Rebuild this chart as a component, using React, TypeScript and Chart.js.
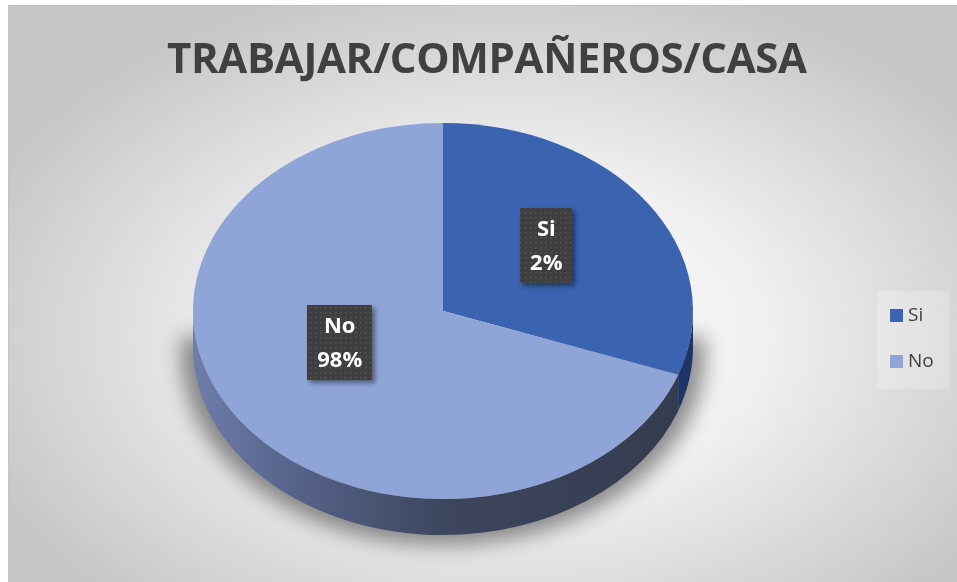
import React, { useEffect, useRef } from "react";
import { Chart, registerables } from "chart.js";

Chart.register(...registerables);

const TITLE = "TRABAJAR/COMPAÑEROS/CASA";
const categories = ["Si", "No"];
const sliceValues = [30.5, 69.5];
const percentLabels = ["2%", "98%"];

const FACE_COLORS = ["#3A63B0", "#8FA5D8"];
const FONT = "'Open Sans', 'Noto Sans', sans-serif";
const W = 949;
const H = 577;

function geometry(chart: any) {
  const a = chart.chartArea;
  const rx = (a.right - a.left) / 2;
  const depth = rx * 0.144;
  const ry = (a.bottom - a.top - depth) / 2;
  const cx = (a.left + a.right) / 2;
  const cy = a.top + ry;
  return { rx, ry, cx, cy, depth };
}

const pie3d = {
  id: "pie3d",
  beforeDraw(chart: any) {
    const ctx = chart.ctx;
    ctx.save();
    const gx = 500, gy = 330;
    ctx.translate(gx, gy);
    ctx.scale(1, 0.64);
    const g = ctx.createRadialGradient(0, 0, 0, 0, 0, 570);
    g.addColorStop(0, "#ffffff");
    g.addColorStop(0.45, "#f0f0f0");
    g.addColorStop(1, "#c6c6c6");
    ctx.fillStyle = g;
    ctx.fillRect(-gx, -gy / 0.64, W, H / 0.64 + 10);
    ctx.restore();
    ctx.save();
    ctx.strokeStyle = "#c4c4c4";
    ctx.lineWidth = 1;
    ctx.strokeRect(0.5, 0.5, W, H);
    ctx.restore();

    // title
    ctx.save();
    ctx.font = `bold 42px ${FONT}`;
    const w0 = ctx.measureText(TITLE).width;
    const ls = (640 - w0) / (TITLE.length - 1);
    (ctx as any).letterSpacing = `${ls}px`;
    ctx.fillStyle = "#404040";
    ctx.textAlign = "left";
    ctx.textBaseline = "alphabetic";
    ctx.fillText(TITLE, 479 - 320, 68);
    ctx.restore();
  },
  beforeDatasetsDraw(chart: any) {
    const ctx = chart.ctx;
    const { rx, ry, cx, cy, depth } = geometry(chart);
    const arcs = chart.getDatasetMeta(0).data;

    // soft shadow below the pie (only the shadow is drawn, shape is off-canvas)
    const OFF = 5000;
    ctx.save();
    ctx.shadowColor = "rgba(0,0,0,0.42)";
    ctx.shadowBlur = 20;
    ctx.shadowOffsetX = -OFF;
    ctx.shadowOffsetY = 6;
    ctx.fillStyle = "#000";
    ctx.beginPath();
    ctx.moveTo(cx + OFF - rx - 12, cy + 20);
    ctx.lineTo(cx + OFF + rx + 12, cy + 20);
    ctx.ellipse(cx + OFF, cy + depth, rx + 12, ry + 4, 0, 0, Math.PI);
    ctx.closePath();
    ctx.fill();
    ctx.restore();

    // sides
    arcs.forEach((arc: any, i: number) => {
      const s = arc.startAngle;
      const e = arc.endAngle;
      for (let k = -1; k <= 1; k++) {
        const lo = Math.max(s, k * 2 * Math.PI);
        const hi = Math.min(e, k * 2 * Math.PI + Math.PI);
        if (hi <= lo) continue;
        ctx.save();
        const grad = ctx.createLinearGradient(cx - rx, 0, cx + rx, 0);
        if (i === 0) {
          grad.addColorStop(0, "#2a4a88");
          grad.addColorStop(1, "#1c3566");
        } else {
          grad.addColorStop(0, "#6d7ea9");
          grad.addColorStop(0.2, "#56648a");
          grad.addColorStop(0.5, "#3d465f");
          grad.addColorStop(1, "#343b4e");
        }
        ctx.fillStyle = grad;
        ctx.beginPath();
        ctx.ellipse(cx, cy, rx, ry, 0, lo, hi);
        ctx.ellipse(cx, cy + depth, rx, ry, 0, hi, lo, true);
        ctx.closePath();
        ctx.fill();
        ctx.restore();
      }
    });

    // top faces through the library's arc elements
    arcs.forEach((arc: any) => {
      const r = arc.outerRadius;
      ctx.save();
      ctx.translate(cx, cy);
      ctx.scale(rx / r, ry / r);
      ctx.translate(-arc.x, -arc.y);
      arc.draw(ctx);
      ctx.restore();
    });
    return false;
  },
  afterDraw(chart: any) {
    const ctx = chart.ctx;
    const { rx, ry, cx, cy } = geometry(chart);
    const arcs = chart.getDatasetMeta(0).data;
    const pc = document.createElement("canvas");
    pc.width = 5;
    pc.height = 5;
    const p = pc.getContext("2d")!;
    p.fillStyle = "#3f3f3f";
    p.fillRect(0, 0, 5, 5);
    p.fillStyle = "#565656";
    p.fillRect(2, 2, 1.5, 1.5);
    const pattern = ctx.createPattern(pc, "repeat");

    arcs.forEach((arc: any, i: number) => {
      const mid = (arc.startAngle + arc.endAngle) / 2;
      const lx = cx + rx * 0.505 * Math.cos(mid);
      const ly = cy - 0.09 * ry + ry * 0.45 * Math.sin(mid);
      const lines = [chart.data.labels[i], percentLabels[i]];
      ctx.save();
      ctx.font = `bold 22px ${FONT}`;
      const tw = Math.max(...lines.map((t: string) => ctx.measureText(t).width));
      const bw = Math.round(tw + 20);
      const lineH = 34;
      const bh = lineH * 2 + 7;
      const bx = Math.round(lx - bw / 2);
      const by = Math.round(ly - bh / 2);
      ctx.shadowColor = "rgba(0,0,0,0.45)";
      ctx.shadowBlur = 5;
      ctx.shadowOffsetX = 3;
      ctx.shadowOffsetY = 3;
      ctx.fillStyle = pattern;
      ctx.fillRect(bx, by, bw, bh);
      ctx.shadowColor = "transparent";
      ctx.fillStyle = "#ffffff";
      ctx.textAlign = "center";
      ctx.textBaseline = "middle";
      lines.forEach((t: string, j: number) => {
        ctx.fillText(t, lx, by + 22 + j * lineH);
      });
      ctx.restore();
    });

    // legend
    const ds = chart.data.datasets[0];
    ctx.save();
    ctx.fillStyle = "rgba(255,255,255,0.22)";
    ctx.fillRect(W - 80, 286, 72, 98);
    ctx.font = `19px ${FONT}`;
    ctx.textBaseline = "middle";
    chart.data.labels.forEach((lab: string, i: number) => {
      const y = 310 + i * 46;
      ctx.fillStyle = ds.backgroundColor[i];
      ctx.fillRect(W - 67, y - 6, 13, 13);
      ctx.fillStyle = "#404040";
      ctx.fillText(lab, W - 49, y + 1);
    });
    ctx.restore();
  },
};

export default function App() {
  const ref = useRef<HTMLCanvasElement>(null);
  useEffect(() => {
    const chart = new Chart(ref.current!, {
      type: "pie",
      data: {
        labels: categories,
        datasets: [
          {
            data: sliceValues,
            backgroundColor: FACE_COLORS,
            borderWidth: 0,
          },
        ],
      },
      options: {
        responsive: false,
        animation: false,
        layout: { padding: { left: 185, right: W - 685, bottom: H - 530, top: 118 } },
        plugins: {
          legend: { display: false },
          tooltip: { enabled: false },
          title: { display: false },
        },
      },
      plugins: [pie3d],
    });
    return () => chart.destroy();
  }, []);
  return (
    <div style={{ position: "absolute", left: 8, top: 5 }}>
      <canvas ref={ref} width={W} height={H} style={{ width: W, height: H, display: "block" }} />
    </div>
  );
}
